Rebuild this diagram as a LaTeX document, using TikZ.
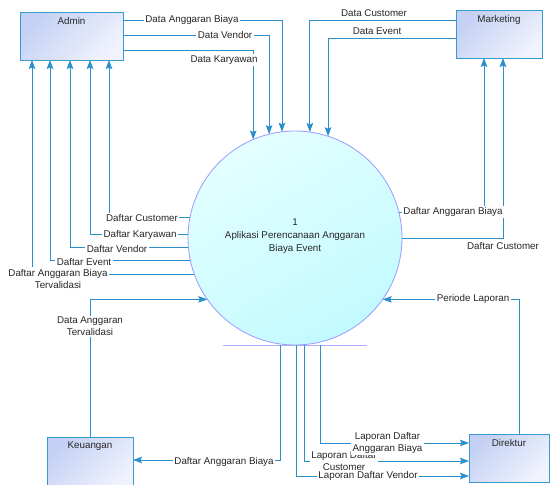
\documentclass[tikz,border=0pt]{standalone}
\usepackage{fontspec}
\setmainfont{Liberation Sans}
\usetikzlibrary{calc,arrows.meta}
\definecolor{flow}{HTML}{2A8FCB}
\definecolor{boxedge}{HTML}{3A9AD0}
\definecolor{boxA}{HTML}{C4D1F4}
\definecolor{boxB}{HTML}{F0F2FD}
\definecolor{procA}{HTML}{E4FFFF}
\definecolor{procB}{HTML}{C2FAFF}
\definecolor{procedge}{HTML}{9A9AFF}
\definecolor{txt}{HTML}{262626}
\tikzset{
  entity/.style={draw=boxedge, line width=0.8pt, top color=boxA, bottom color=boxB,
    shading angle=45, inner sep=0pt, outer sep=0pt},
  process/.style={circle, draw=procedge, line width=0.8pt, top color=procA, bottom color=procB,
    shading angle=30, minimum size=214pt, inner sep=0pt, outer sep=0pt},
  flowline/.style={draw=flow, line width=0.8pt},
  arr/.style={flowline, -{Stealth[length=9pt,width=6.5pt,inset=1.5pt]}},
  lbl/.style={fill=white, inner sep=1.5pt, text=txt, align=center,
    font=\fontsize{9.8}{12}\selectfont},
  ename/.style={anchor=north, yshift=-1.5pt, text=txt, font=\fontsize{9.8}{12}\selectfont},
}
\begin{document}
\begin{tikzpicture}[x=1pt, y=-1pt]
\clip (0,0) rectangle (550,485);
\fill[white] (0,0) rectangle (550,485);

% external entities
\node[entity, minimum width=103pt, minimum height=48pt,
  label={[ename]north:Admin}] (Admin) at (71.5,36) {};
\node[entity, minimum width=86pt, minimum height=48pt,
  label={[ename]north:Marketing}] (Marketing) at (499,34) {};
\node[entity, minimum width=86pt, minimum height=53pt,
  label={[ename]north:Keuangan}] (Keuangan) at (90,463.5) {};
\node[entity, minimum width=80pt, minimum height=48pt,
  label={[ename]north:Direktur}] (Direktur) at (509,458) {};

% process
\node[process] (P) at (295,238) {};
\node[text=txt, align=center, font=\fontsize{9.8}{13.3}\selectfont] (Ptitle) at (295,236)
  {1\\Aplikasi Perencanaan Anggaran\\Biaya Event};
\draw[procedge!80, line width=0.8pt] (223,345) -- (367,345);
\coordinate (base) at (295,345);

% Admin -> process
\draw[arr] ($(Admin.north east)+(0,8)$)  -| (P.97.52);
\draw[arr] ($(Admin.north east)+(0,23)$) -| (P.104.62);
\draw[arr] ($(Admin.north east)+(0,38)$) -| (P.113.70);

% Marketing -> process
\draw[arr] ($(Marketing.north west)+(0,10)$)   -| (P.82.48);
\draw[arr] ($(Marketing.north west)+(0,28.7)$) -| (P.72.60);

% process -> Marketing
\draw[arr] (P.14.06) -| ($(Marketing.south west)+(28,0)$);
\draw[arr] (P.0)     -| ($(Marketing.south west)+(47,0)$);

% process -> Admin
\draw[arr] (P.169.23) -| ($(Admin.south west)+(89,0)$);
\draw[arr] (P.178.39) -| ($(Admin.south west)+(70,0)$);
\draw[arr] (P.185.90) -| ($(Admin.south west)+(50,0)$);
\draw[arr] (P.192.96) -| ($(Admin.south west)+(30,0)$);
\draw[arr] (P.200.80) -| ($(Admin.south west)+(12,0)$);

% Keuangan / Direktur -> process
\draw[arr] (Keuangan.north) |- (P.215.41);
\draw[arr] ($(Direktur.north)+(10,0)$) |- (P.325.24);

% process -> Keuangan / Direktur
\draw[arr] ($(base)+(-15,0)$) |- ($(Keuangan.north east)+(0,23)$);
\draw[arr] ($(base)+(1,0)$)   |- ($(Direktur.north west)+(0,42)$);
\draw[arr] ($(base)+(9,0)$)   |- ($(Direktur.north west)+(0,27)$);
\draw[arr] ($(base)+(25,0)$)  |- ($(Direktur.north west)+(0,9)$);

% flow labels
\node[lbl] at (192,20) {Data Anggaran Biaya};
\node[lbl] at (225,35) {Data Vendor};
\node[lbl] at (224,60) {Data Karyawan};
\node[lbl, fill=none] at (374,13.5) {Data Customer};
\node[lbl, fill=none] at (377,31) {Data Event};
\node[lbl] at (453,212) {Daftar Anggaran Biaya};
\node[lbl] at (503,246) {Daftar Customer};
\node[lbl] at (142,218) {Daftar Customer};
\node[lbl] at (140,235) {Daftar Karyawan};
\node[lbl] at (117,249) {Daftar Vendor};
\node[lbl] at (84,262) {Daftar Event};
\node[lbl] at (58,278.5) {Daftar Anggaran Biaya\\Tervalidasi};
\node[lbl] at (90,326.5) {Data Anggaran\\Tervalidasi};
\node[lbl] at (473,299) {Periode Laporan};
\node[lbl] at (224,462) {Daftar Anggaran Biaya};
\node[lbl] at (344,461) {Laporan Daftar\\Customer};
\node[lbl] at (387.5,443) {Laporan Daftar\\Anggaran Biaya};
\node[lbl] at (368,476) {Laporan Daftar Vendor};
\end{tikzpicture}
\end{document}
